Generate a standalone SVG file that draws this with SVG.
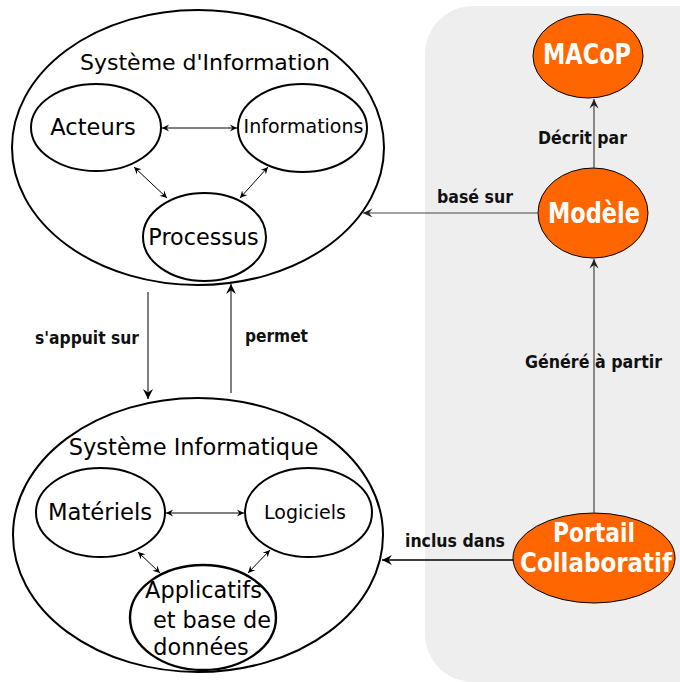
<svg xmlns="http://www.w3.org/2000/svg" width="680" height="682" viewBox="0 0 680 682">
<defs>
<marker id="ah" viewBox="-11 -6 12 12" markerWidth="12" markerHeight="12" refX="0" refY="0" orient="auto-start-reverse" markerUnits="userSpaceOnUse">
<path d="M0,0 L-10,-5 L-6.5,0 L-10,5 Z" fill="#000"/>
</marker>
<marker id="ahs" viewBox="-10 -6 12 12" markerWidth="10" markerHeight="10" refX="0" refY="0" orient="auto-start-reverse" markerUnits="userSpaceOnUse">
<path d="M0,0 L-8.5,-4.2 L-5.5,0 L-8.5,4.2 Z" fill="#000"/>
</marker>
<marker id="ahg" viewBox="-11 -6 12 12" markerWidth="12" markerHeight="12" refX="0" refY="0" orient="auto-start-reverse" markerUnits="userSpaceOnUse">
<path d="M0,0 L-9.5,-4.5 L-6,0 L-9.5,4.5 Z" fill="#222"/>
</marker>
</defs>
<style>
.sys{fill:none;stroke:#000;stroke-width:2}
.in{fill:#fff;stroke:#000;stroke-width:2}
.or{fill:#ff6600;stroke:#000;stroke-width:1}
.t{font-family:"DejaVu Sans",sans-serif;fill:#000}
.w{font-family:"DejaVu Sans Condensed","DejaVu Sans",sans-serif;font-weight:bold;fill:#fff;text-anchor:middle}
.lb{font-family:"DejaVu Sans Condensed","DejaVu Sans",sans-serif;font-weight:bold;font-size:17.5px;fill:#111}
.c{fill:none;stroke:#000;stroke-width:1}
.cg{fill:none;stroke:#444;stroke-width:1.2}
</style>
<rect x="425" y="6" width="320" height="676" rx="48" ry="48" fill="#eeeeee"/>

<g id="systeme-information">
<ellipse class="sys" cx="198" cy="147.5" rx="186" ry="137.5"/>
<text class="t" x="205" y="70" font-size="22" text-anchor="middle">Système d'Information</text>
</g>
<g id="acteurs">
<ellipse class="in" cx="96" cy="127.5" rx="65" ry="43.5"/>
<text class="t" x="93" y="135" font-size="22.5" text-anchor="middle">Acteurs</text>
</g>
<g id="informations">
<ellipse class="in" cx="302.5" cy="128" rx="64.5" ry="44"/>
<text class="t" x="303.5" y="133" font-size="19" text-anchor="middle">Informations</text>
</g>
<g id="processus">
<ellipse class="in" cx="204.5" cy="237" rx="61.5" ry="44"/>
<text class="t" x="203.5" y="245" font-size="22.3" text-anchor="middle">Processus</text>
</g>

<g id="systeme-informatique">
<ellipse class="sys" cx="198" cy="535" rx="185" ry="137"/>
<text class="t" x="193.5" y="455" font-size="22.5" text-anchor="middle">Système Informatique</text>
</g>
<g id="materiels">
<ellipse class="in" cx="100.5" cy="512.5" rx="64.5" ry="44.5"/>
<text class="t" x="100" y="520" font-size="22.7" text-anchor="middle">Matériels</text>
</g>
<g id="logiciels">
<ellipse class="in" cx="308.5" cy="512.5" rx="63.5" ry="44.5"/>
<text class="t" x="305" y="519" font-size="19" text-anchor="middle">Logiciels</text>
</g>
<g id="applicatifs">
<ellipse cx="203" cy="617.5" rx="73" ry="52.5" fill="#fff" stroke="#000" stroke-width="2.4"/>
<text class="t" font-size="22.4" text-anchor="middle"><tspan x="203.5" y="598">Applicatifs</tspan><tspan x="212" y="628">et base de</tspan><tspan x="201" y="655">données</tspan></text>
</g>

<g id="macop">
<ellipse class="or" cx="588" cy="56" rx="55" ry="42"/>
<text class="w" x="587" y="64" font-size="29" textLength="88" lengthAdjust="spacingAndGlyphs">MACoP</text>
</g>
<g id="modele">
<ellipse class="or" cx="593" cy="213" rx="55" ry="45"/>
<text class="w" x="594" y="223" font-size="27.5" textLength="92" lengthAdjust="spacingAndGlyphs">Modèle</text>
</g>
<g id="portail">
<ellipse class="or" cx="594" cy="558" rx="81" ry="45"/>
<text class="w" x="594" y="542" font-size="26" textLength="82" lengthAdjust="spacingAndGlyphs">Portail</text>
<text class="w" x="596" y="572" font-size="26" textLength="152" lengthAdjust="spacingAndGlyphs">Collaboratif</text>
</g>

<g id="connectors">
<line class="c" x1="162" y1="128" x2="237" y2="128" marker-start="url(#ahs)" marker-end="url(#ahs)"/>
<line class="c" x1="134" y1="167" x2="167" y2="198" marker-start="url(#ahs)" marker-end="url(#ahs)"/>
<line class="c" x1="268" y1="167" x2="240" y2="198" marker-start="url(#ahs)" marker-end="url(#ahs)"/>
<line class="c" x1="166" y1="513" x2="244" y2="513" marker-start="url(#ahs)" marker-end="url(#ahs)"/>
<line class="c" x1="138" y1="552" x2="160" y2="573" marker-start="url(#ahs)" marker-end="url(#ahs)"/>
<line class="c" x1="270" y1="550" x2="248" y2="573" marker-start="url(#ahs)" marker-end="url(#ahs)"/>
<line class="c" x1="148" y1="292" x2="148" y2="399" marker-end="url(#ah)"/>
<line class="c" x1="231" y1="393" x2="231" y2="284" marker-end="url(#ah)"/>
<line class="cg" x1="594" y1="168" x2="594" y2="99" marker-end="url(#ahg)"/>
<line class="cg" x1="594" y1="513" x2="594" y2="259" marker-end="url(#ahg)"/>
<line class="cg" x1="538" y1="213" x2="363" y2="213" marker-end="url(#ahg)"/>
<line x1="513" y1="560" x2="382" y2="560" stroke="#000" stroke-width="1.5" marker-end="url(#ah)"/>
<text class="lb" x="35" y="344" textLength="104" lengthAdjust="spacingAndGlyphs">s'appuit sur</text>
<text class="lb" x="245" y="342" textLength="63" lengthAdjust="spacingAndGlyphs">permet</text>
<text class="lb" x="538" y="144" textLength="89" lengthAdjust="spacingAndGlyphs">Décrit par</text>
<text class="lb" x="437" y="203" textLength="76" lengthAdjust="spacingAndGlyphs">basé sur</text>
<text class="lb" x="525" y="368" textLength="137" lengthAdjust="spacingAndGlyphs">Généré à partir</text>
<text class="lb" x="405" y="547" textLength="100" lengthAdjust="spacingAndGlyphs">inclus dans</text>
</g>
</svg>
